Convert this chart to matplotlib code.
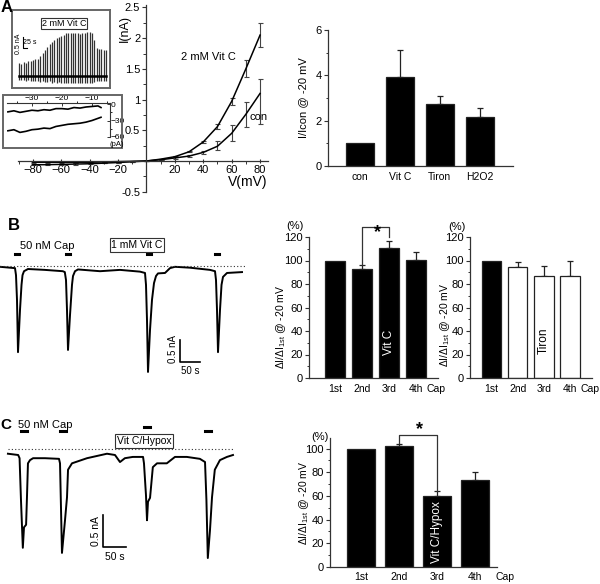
import matplotlib
matplotlib.use('Agg')
import matplotlib.pyplot as plt
from matplotlib.patches import Rectangle
from matplotlib.ticker import MultipleLocator, FixedLocator
import numpy as np

plt.rcParams['font.family'] = ['Liberation Sans', 'DejaVu Sans']
plt.rcParams['axes.linewidth'] = 0.9

W, H = 600, 584
fig = plt.figure(figsize=(6, 5.84), dpi=100)


def box(x0, y0, x1, y1):
    # pixel box (y from top) -> figure fraction rect
    return [x0 / W, 1 - y1 / H, (x1 - x0) / W, (y1 - y0) / H]


def ftext(x, y, s, **kw):
    kw.setdefault('ha', 'center')
    kw.setdefault('va', 'center')
    return fig.text(x / W, 1 - y / H, s, **kw)


# ---------------- data ----------------
# A: I-V curves (nA)
volt = [-80, -70, -60, -50, -40, -30, -20, -10, 0, 10, 20, 30, 40, 50, 60, 70, 80]
i_vitc = [-0.06, -0.06, -0.055, -0.05, -0.045, -0.035, -0.025, -0.012, 0, 0.03, 0.07, 0.15, 0.31, 0.56, 0.97, 1.5, 2.05]
e_vitc = [0.01, 0.01, 0.01, 0.01, 0.01, 0, 0, 0, 0, 0, 0.01, 0.01, 0.02, 0.04, 0.06, 0.14, 0.2]
i_con = [-0.02, -0.02, -0.02, -0.02, -0.02, -0.015, -0.01, -0.005, 0, 0.02, 0.05, 0.08, 0.14, 0.24, 0.45, 0.76, 1.1]
e_con_lo = [0.01, 0.01, 0.01, 0.01, 0.01, 0, 0, 0, 0, 0, 0.01, 0.01, 0.02, 0.06, 0.12, 0.2, 0.5]
e_con_hi = [0.01, 0.01, 0.01, 0.01, 0.01, 0, 0, 0, 0, 0, 0.01, 0.01, 0.02, 0.08, 0.13, 0.2, 0.24]

# A inset 1: ramp-evoked current amplitudes (nA)
spike_up = [0.54, 0.5, 0.58, 0.54, 0.62, 0.62, 0.67, 0.71, 0.71, 0.83, 0.96, 1.08, 1.21, 1.33, 1.42, 1.5,
            1.58, 1.62, 1.67, 1.71, 1.79, 1.79, 1.79, 1.79, 1.79, 1.79, 1.75, 1.79, 1.79, 1.83, 1.83, 1.79,
            1.5, 1.17, 1.12, 1.12, 1.08, 1.08]
spike_dn = [0.15, 0.18, 0.15, 0.2, 0.18, 0.2, 0.22, 0.2, 0.22, 0.25, 0.22, 0.25, 0.25, 0.22, 0.28, 0.25,
            0.28, 0.25, 0.28, 0.3, 0.28, 0.3, 0.28, 0.3, 0.3, 0.28, 0.3, 0.28, 0.3, 0.28, 0.3, 0.28,
            0.25, 0.22, 0.22, 0.2, 0.22, 0.2]

# A inset 2: ramp currents (pA) vs V (mV)
ramp_v = [-38, -36, -34, -32, -30, -28, -26, -24, -22, -20, -18, -16, -14, -12, -10, -8, -7]
ramp_top = [-14, -12, -15, -13, -11, -12, -10, -11, -8, -8, -9, -6, -7, -5, -4, -3, -6]
ramp_bot = [-49, -47, -52, -50, -47, -46, -44, -45, -41, -39, -37, -36, -35, -33, -30, -26, -24]

# A bar chart
a_labels = ['con', 'Vit C', 'Tiron', 'H2O2']
a_vals = [1.0, 3.94, 2.72, 2.18]
a_err = [0, 1.18, 0.35, 0.38]

# B trace (s, nA)
b_t = [0, 37.5, 40, 42.5, 45, 50, 53.8, 56.3, 60, 70, 112, 157, 162, 165, 167.5, 170, 175, 180, 182.5,
       187.5, 195, 250, 300, 350, 362.5, 365, 367.5, 370, 375, 380, 385, 390, 395, 412.5, 425, 437.5,
       475, 525, 537.5, 540, 542.5, 545, 550, 553.8, 557.5, 567.5, 605]
b_i = [0.05, 0.02, -0.14, -0.70, -1.89, -0.93, -0.36, -0.14, -0.05, 0.0, -0.02, -0.05, -0.07, -0.25,
       -0.93, -1.84, -1.05, -0.36, -0.16, -0.05, -0.01, -0.05, -0.02, -0.06, -0.09, -0.36, -1.16, -2.34,
       -1.39, -0.70, -0.32, -0.16, -0.10, -0.09, 0.02, 0.05, 0.03, -0.02, -0.05, -0.25, -0.93, -1.89,
       -0.93, -0.36, -0.18, -0.09, -0.07]
b_cap = [42.5, 170, 372.5, 542.5]

# B bar charts (%)
bars_lbl = ['1st', '2nd', '3rd', '4th']
bl_vals = [100, 92.8, 110.6, 100.4]
bl_err = [0, 3.5, 6, 6.5]
br_vals = [100, 94.5, 87, 87]
br_err = [0, 4.5, 8, 13]

# C trace (s, nA)
c_t = [17, 39, 42, 45, 49, 51.5, 56, 58, 60, 64.4, 71, 96.6, 126.6, 128.8, 131, 133, 139.5, 143.8, 146,
       154.5, 186.7, 229.6, 246.8, 257.5, 268, 285, 307, 309, 313.3, 315.5, 317.6, 322, 328, 337, 358,
       365, 375.5, 401, 429, 440, 443, 446, 450.7, 455, 461, 472, 487, 500]
c_i = [0.02, 0, -0.05, -0.70, -1.45, -1.13, -1.09, -0.63, -0.13, -0.08, -0.05, -0.05, -0.06, -0.13, -0.86,
       -1.53, -1.02, -0.66, -0.23, -0.13, -0.05, 0.02, 0, -0.11, -0.05, -0.03, -0.03, -0.13, -0.63, -1.02,
       -0.73, -0.67, -0.19, -0.13, -0.13, -0.09, -0.03, -0.03, -0.06, -0.11, -0.70, -1.61, -1.17, -0.66,
       -0.23, -0.08, -0.03, 0]
c_cap = [51.5, 135, 315.5, 446]
c_cap_y = [0.375, 0.375, 0.44, 0.375]

# C bar chart (%)
c_vals = [100, 101.9, 59.9, 73.3]
c_err = [0, 2.2, 4, 7]

AX = '#333333'


def style_bar_axes(ax):
    for s in ['top', 'right']:
        ax.spines[s].set_visible(False)
    for s in ['left', 'bottom']:
        ax.spines[s].set_color(AX)
    ax.tick_params(axis='y', direction='out', length=3, width=0.8, labelsize=8, pad=1.5, color=AX)
    ax.tick_params(axis='y', which='minor', length=1.8, width=0.7, color=AX)
    ax.tick_params(axis='x', length=0, labelsize=7.5)


def bar_panel(rect, vals, errs, colors, width, xlim, ylim, pad, labels):
    ax = fig.add_axes(box(*rect))
    x = np.arange(len(vals))
    ax.bar(x, vals, width=width, color=colors, edgecolor='#222222', linewidth=0.9, zorder=2)
    idx = [k for k in x if errs[k] > 0]
    ax.errorbar([x[k] for k in idx], [vals[k] for k in idx],
                yerr=[[0] * len(idx), [errs[k] for k in idx]], fmt='none',
                ecolor='#222222', elinewidth=0.9, capsize=2, capthick=0.9, zorder=1)
    ax.set_xlim(*xlim)
    ax.set_ylim(*ylim)
    ax.set_xticks(x)
    ax.set_xticklabels(labels)
    ax.tick_params(axis='x', pad=pad)
    style_bar_axes(ax)
    return ax


# ---------------- Panel A: I-V ----------------
ax = fig.add_axes(box(18, 5, 268, 192))
ax.patch.set_alpha(0)
ax.errorbar(volt, i_con, yerr=[e_con_lo, e_con_hi], color='black', lw=1.1,
            ecolor='#444444', elinewidth=0.8, capsize=1.8, capthick=0.8)
ax.errorbar(volt, i_vitc, yerr=e_vitc, color='black', lw=1.1,
            ecolor='#444444', elinewidth=0.8, capsize=1.8, capthick=0.8)
ax.set_xlim(-90.5, 85.6)
ax.set_ylim(-0.505, 2.54)
for s in ['top', 'right']:
    ax.spines[s].set_visible(False)
ax.spines['left'].set_position(('data', 0))
ax.spines['bottom'].set_position(('data', 0))
for s in ['left', 'bottom']:
    ax.spines[s].set_color(AX)
ax.set_xticks([-80, -60, -40, -20, 20, 40, 60, 80])
ax.xaxis.set_minor_locator(FixedLocator([-90, -70, -50, -30, -10, 10, 30, 50, 70]))
ax.set_yticks([-0.5, 0.5, 1, 1.5, 2, 2.5])
ax.set_yticklabels(['-0.5', '0.5', '1', '1.5', '2', '2.5'])
ax.yaxis.set_minor_locator(FixedLocator([-0.25, 0.25, 0.75, 1.25, 1.75, 2.25]))
ax.tick_params(axis='x', direction='inout', length=3.5, width=0.8, labelsize=8, pad=1, color=AX)
ax.tick_params(axis='y', direction='out', length=3, width=0.8, labelsize=8, pad=1.5, color=AX)
ax.tick_params(which='minor', length=2, width=0.7, color=AX)
ftext(125, 29, 'I(nA)', rotation=90, fontsize=9)
ftext(248, 182, 'V(mV)', fontsize=10)
ftext(208, 57, '2 mM Vit C', fontsize=8)
ftext(259, 117, 'con', fontsize=8)

# inset 1
a1 = fig.add_axes(box(12, 10, 110, 88))
idx = np.arange(len(spike_up))
a1.vlines(idx, [-d for d in spike_dn], spike_up, color='#333333', lw=0.9)
a1.plot([idx[0], idx[-1]], [0, 0], color='black', lw=1.8)
a1.plot([1.83, 1.83, 3.2], [1.63, 1.17, 1.17], color='black', lw=0.8)
a1.set_xlim(-2.98, 38.7)
a1.set_ylim(-0.5, 2.75)
a1.set_xticks([])
a1.set_yticks([])
for s in a1.spines.values():
    s.set_color('#666666')
    s.set_linewidth(1.4)
ftext(18.5, 44, '0.5 nA', rotation=90, fontsize=5)
ftext(30, 43, '25 s', fontsize=5)
ftext(64, 23.5, '2 mM Vit C', fontsize=6.5,
      bbox=dict(boxstyle='square,pad=0.12', fc='white', ec='#333333', lw=0.8))

# inset 2
fig.patches.append(Rectangle((3 / W, 1 - 148 / H), 119 / W, 53 / H, transform=fig.transFigure,
                             fill=False, ec='#666666', lw=1.4))
a2 = fig.add_axes(box(7, 103, 110, 137))
a2.patch.set_alpha(0)
a2.plot(ramp_v, ramp_top, color='black', lw=1.2)
a2.plot(ramp_v, ramp_bot, color='black', lw=1.2)
a2.set_xlim(-38.3, -4)
a2.set_ylim(-60.5, 2.4)
for s in ['left', 'bottom']:
    a2.spines[s].set_visible(False)
for s in ['top', 'right']:
    a2.spines[s].set_color(AX)
    a2.spines[s].set_linewidth(0.8)
a2.xaxis.tick_top()
a2.yaxis.tick_right()
a2.set_xticks([-30, -20, -10])
a2.xaxis.set_minor_locator(MultipleLocator(5))
a2.set_yticks([0, -30, -60])
a2.yaxis.set_minor_locator(MultipleLocator(15))
a2.tick_params(direction='in', length=2, width=0.7, labelsize=6, pad=0.5, color=AX)
a2.tick_params(which='minor', length=1.2)
ftext(117, 144, '(pA)', fontsize=5.5)

# A bar chart
ax = bar_panel((328, 30, 513, 166), a_vals, a_err, 'black', 0.7, (-0.8, 3.83), (0, 6), 4, a_labels)
ax.set_yticks([0, 2, 4, 6])
ax.yaxis.set_minor_locator(MultipleLocator(1))
ftext(303, 98, 'I/Icon @ -20 mV', rotation=90, fontsize=8)

ftext(7, 7, 'A', fontsize=12, fontweight='bold')

# ---------------- Panel B ----------------
ftext(14, 226, 'B', fontsize=12, fontweight='bold')
bt = fig.add_axes(box(0, 235, 245, 380))
bt.axis('off')
bt.plot(b_t, b_i, color='black', lw=1.4)
bt.set_xlim(0, 612.5)
bt.set_ylim(-2.523, 0.773)
bt.plot([0, 612.5], [0.068, 0.068], color='#333333', lw=0.8, ls=(0, (1, 2)))
for t in b_cap:
    bt.plot([t - 6, t + 6], [0.34, 0.34], color='black', lw=2.2)
bt.plot([450, 450, 500], [-1.61, -2.11, -2.11], color='black', lw=1.2)
ftext(47, 246, '50 nM Cap', fontsize=8)
ftext(137, 245, '1 mM Vit C', fontsize=7.5,
      bbox=dict(boxstyle='square,pad=0.15', fc='white', ec='#333333', lw=0.8))
ftext(173, 349, '0.5 nA', rotation=90, fontsize=7)
ftext(190, 371, '50 s', fontsize=7)

ax = bar_panel((309, 237, 438, 378), bl_vals, bl_err, 'black', 0.74, (-0.96, 3.81), (0, 120), 4, bars_lbl)
ax.set_yticks(range(0, 121, 20))
ax.yaxis.set_minor_locator(MultipleLocator(10))
ax.plot([1, 1, 2, 2], [96.5, 128.5, 128.5, 120], color='#333333', lw=0.9, clip_on=False)
ax.text(2, 30, 'Vit C', rotation=90, color='white', fontsize=8.5, ha='center', va='center')
ftext(377, 233, '*', fontsize=13, fontweight='bold')
ftext(436, 389, 'Cap', fontsize=7.5)
ftext(295, 226, '(%)', fontsize=8)
ftext(281, 327, 'ΔI/ΔI$_{\\mathregular{1st}}$ @ -20 mV', rotation=90, fontsize=7.5)

ax = bar_panel((470, 237, 592, 378), br_vals, br_err, ['black', 'white', 'white', 'white'], 0.74,
               (-0.82, 3.84), (0, 120), 4, bars_lbl)
ax.set_yticks(range(0, 121, 20))
ax.yaxis.set_minor_locator(MultipleLocator(10))
ax.text(2, 32, 'Tiron', rotation=90, color='black', fontsize=8.5, ha='center', va='center')
ftext(590, 389, 'Cap', fontsize=7.5)
ftext(457, 227, '(%)', fontsize=8)
ftext(445, 325, 'ΔI/ΔI$_{\\mathregular{1st}}$ @ -20 mV', rotation=90, fontsize=7.5)

# ---------------- Panel C ----------------
ftext(6, 425, 'C', fontsize=11, fontweight='bold')
ct = fig.add_axes(box(0, 415, 245, 570))
ct.axis('off')
ct.plot(c_t, c_i, color='black', lw=1.4)
ct.set_xlim(0, 525.8)
ct.set_ylim(-1.797, 0.625)
ct.plot([17, 500], [0.094, 0.094], color='#333333', lw=0.8, ls=(0, (1, 2)))
for t, y in zip(c_cap, c_cap_y):
    ct.plot([t - 6, t + 6], [y, y], color='black', lw=2.2)
ct.plot([221, 221, 271], [-0.94, -1.44, -1.44], color='black', lw=1.2)
ftext(45, 425, '50 nM Cap', fontsize=8)
ftext(144, 441, 'Vit C/Hypox', fontsize=7.5,
      bbox=dict(boxstyle='square,pad=0.15', fc='white', ec='#333333', lw=0.8))
ftext(96, 531, '0.5 nA', rotation=90, fontsize=7.5)
ftext(115, 557, '50 s', fontsize=7.5)

ax = bar_panel((330, 438, 497, 567), c_vals, c_err, 'black', 0.74, (-0.82, 3.57), (0, 109), 3.5, bars_lbl)
ax.set_yticks(range(0, 101, 20))
ax.yaxis.set_minor_locator(MultipleLocator(10))
ax.plot([1, 1, 2, 2], [104.5, 111.4, 111.4, 64.5], color='#333333', lw=0.9, clip_on=False)
ax.text(2, 29.5, 'Vit C/Hypox', rotation=90, color='white', fontsize=8.5, ha='center', va='center')
ftext(419, 430, '*', fontsize=13, fontweight='bold')
ftext(505, 577, 'Cap', fontsize=7.5)
ftext(320, 437, '(%)', fontsize=8)
ftext(304, 503, 'ΔI/ΔI$_{\\mathregular{1st}}$ @ -20 mV', rotation=90, fontsize=7.5)

fig.savefig('out.png', dpi=100)
